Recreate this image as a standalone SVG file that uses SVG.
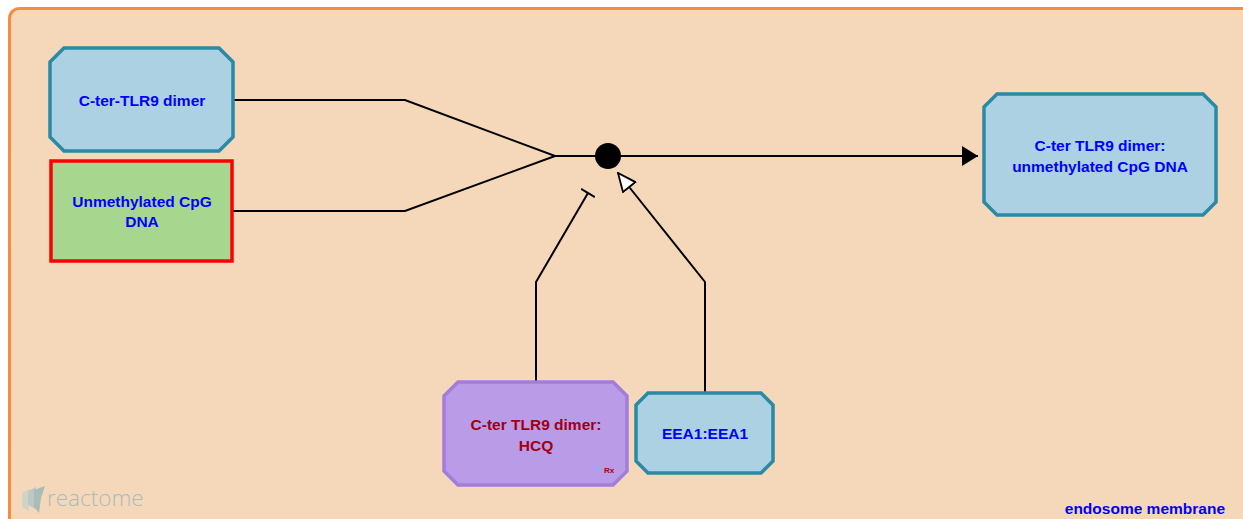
<svg xmlns="http://www.w3.org/2000/svg" width="1243" height="519" viewBox="0 0 1243 519">
<style>
.lbl{font-family:"Liberation Sans",Arial,sans-serif;font-weight:bold;font-size:15.5px;text-anchor:middle;fill:#0000ff}
.drug{fill:#a00010}
.cx{fill:#abd1e3;stroke:#2a8aa6;stroke-width:3.5}
.edge{fill:none;stroke:#000;stroke-width:2}
</style>
<defs>
<marker id="arrFilled" viewBox="0 0 16 20" refX="16" refY="10" markerWidth="16" markerHeight="20" markerUnits="userSpaceOnUse" orient="auto">
<path d="M0,0 L16,10 L0,20 Z" fill="#000"/>
</marker>
<marker id="arrOpen" viewBox="0 0 20 18" refX="19" refY="9" markerWidth="20" markerHeight="18" markerUnits="userSpaceOnUse" orient="auto">
<path d="M1,1 L19,9 L1,17 Z" fill="#fff" stroke="#000" stroke-width="1.8"/>
</marker>
<marker id="bar" viewBox="0 0 4 16" refX="2" refY="8" markerWidth="4" markerHeight="16" markerUnits="userSpaceOnUse" orient="auto">
<path d="M2,0 L2,16" stroke="#000" stroke-width="2"/>
</marker>
</defs>
<g id="compartment">
<rect x="9.5" y="8.5" width="1260" height="540" rx="10" fill="#f5d7ba" stroke="#f88b3f" stroke-width="3"/>
<text x="1225" y="514" style="font-family:'Liberation Sans',Arial,sans-serif;font-weight:bold;font-size:15.5px;fill:#0000ff;text-anchor:end">endosome membrane</text>
</g>
<g id="reactome-logo" opacity="0.55">
<path d="M22,493 L29,489 L29,511 L22,507 Z" fill="#b7d0d4"/>
<path d="M28,491 L36,487 L36,509 L28,505 Z" fill="#8fbcc6"/>
<path d="M34,490 L45,486 L41,498 L39,513 L34,507 Z" fill="#6aa8b8"/>
<text x="47" y="506" style="font-family:'Open Sans','Liberation Sans',sans-serif;font-size:22.5px;font-weight:300;fill:#6aa8b8">reactome</text>
</g>
<g id="connectors">
<path class="edge" d="M233,100 L405,100 L555,156 L596,156"/>
<path class="edge" d="M233,211 L405,211 L555,156"/>
<path class="edge" d="M620,156 L978,156" marker-end="url(#arrFilled)"/>
<path class="edge" d="M536,382 L536,282 L588,193" marker-end="url(#bar)"/>
<path class="edge" d="M705,393 L705,282 L618,173" marker-end="url(#arrOpen)"/>
<circle cx="608" cy="156" r="13" fill="#000"/>
</g>
<g id="node-cter-tlr9-dimer">
<path class="cx" d="M64,48 L219,48 L233,62 L233,137 L219,151 L64,151 L50,137 L50,62 Z"/>
<text class="lbl" x="142" y="106">C-ter-TLR9 dimer</text>
</g>
<g id="node-cpg-dna">
<rect x="51" y="161" width="181" height="100" fill="#a7d68f" stroke="#ff0000" stroke-width="3.5"/>
<text class="lbl" x="142" y="207">Unmethylated CpG</text>
<text class="lbl" x="142" y="227">DNA</text>
</g>
<g id="node-product">
<path class="cx" d="M997,94 L1203,94 L1216,107 L1216,202 L1203,215 L997,215 L984,202 L984,107 Z"/>
<text class="lbl" x="1100" y="151">C-ter TLR9 dimer:</text>
<text class="lbl" x="1100" y="172">unmethylated CpG DNA</text>
</g>
<g id="node-hcq">
<path d="M458,382 L613,382 L627,396 L627,471 L613,485 L458,485 L444,471 L444,396 Z" fill="#b99be7" stroke="#a27ddb" stroke-width="3.5"/>
<text class="lbl drug" x="536" y="430">C-ter TLR9 dimer:</text>
<text class="lbl drug" x="536" y="451">HCQ</text>
<text x="609" y="473" style="font-family:'Liberation Sans',Arial,sans-serif;font-weight:bold;font-size:8px;fill:#a00010;text-anchor:middle">Rx</text>
</g>
<g id="node-eea1">
<path class="cx" d="M648,393 L761,393 L773,405 L773,461 L761,473 L648,473 L636,461 L636,405 Z"/>
<text class="lbl" x="705" y="439">EEA1:EEA1</text>
</g>
</svg>
